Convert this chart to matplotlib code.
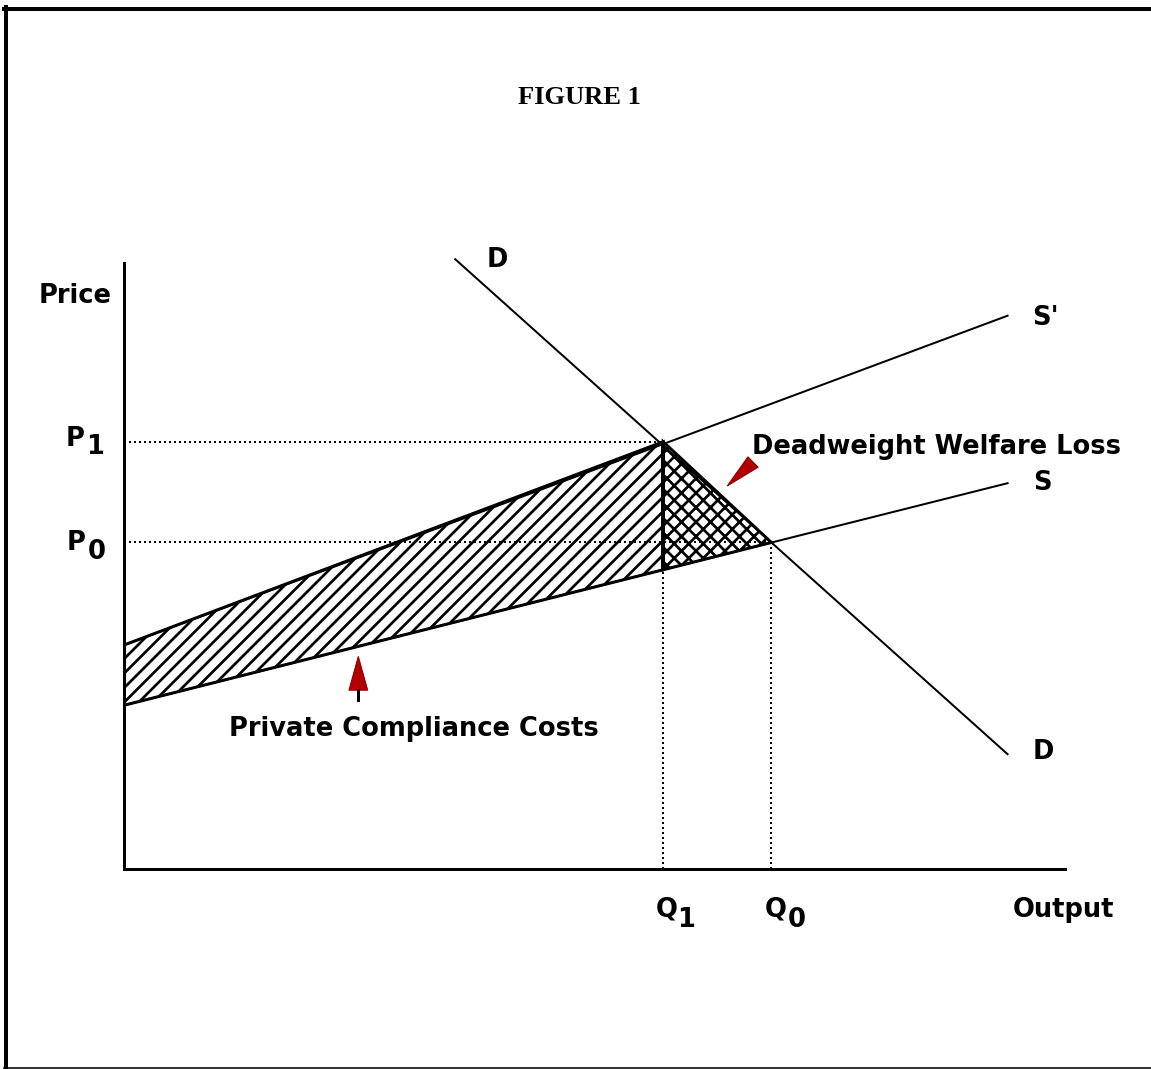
import numpy as np
import matplotlib
matplotlib.use('Agg')
import matplotlib.pyplot as plt
from matplotlib.patches import Polygon
from matplotlib.lines import Line2D

W, H, DPI = 1151, 1069, 87
PX = 72.0 / DPI  # one pixel in points

plt.rcParams['hatch.linewidth'] = 2.7 * PX
plt.rcParams['font.family'] = 'DejaVu Sans'

# curve end points (output, price)
demand_x = [3.52, 9.39]
demand_y = [6.48, 1.22]
supply_x = [0.0, 9.39]
supply_y = [1.74, 4.10]
supply2_x = [0.0, 9.39]
supply2_y = [2.38, 5.88]

# equilibria
q1, p1 = 5.73, 4.54
q0, p0 = 6.88, 3.47
s_at_q1 = 3.18

fig = plt.figure(figsize=(W / DPI, H / DPI), dpi=DPI)
ax = fig.add_axes([124 / W, (H - 869) / H, 941 / W, 606 / H])
ax.set_xlim(0, 10)
ax.set_ylim(0, 6.44)
for side in ['top', 'right']:
    ax.spines[side].set_visible(False)
for side in ['left', 'bottom']:
    ax.spines[side].set_linewidth(3 * PX)
ax.set_xticks([])
ax.set_yticks([])

lw = 2 * PX
ax.plot(demand_x, demand_y, 'k-', lw=lw, clip_on=False)
ax.plot(supply_x, supply_y, 'k-', lw=lw, clip_on=False)
ax.plot(supply2_x, supply2_y, 'k-', lw=lw, clip_on=False)

# compliance costs region
cost = Polygon([(supply_x[0], supply_y[0]), (supply2_x[0], supply2_y[0]), (q1, p1), (q1, s_at_q1)],
               closed=True, facecolor='none', edgecolor='k', hatch='//', lw=3 * PX)
ax.add_patch(cost)
# deadweight loss triangle
dwl = Polygon([(q1, p1), (q0, p0), (q1, s_at_q1)], closed=True,
              facecolor='none', edgecolor='k', hatch='xx', lw=3 * PX)
ax.add_patch(dwl)
ax.plot([q1, q1], [s_at_q1, p1], 'k-', lw=4 * PX, solid_capstyle='butt')

dot = (0, (1, 1.5))
ax.plot([0, q1], [p1, p1], color='k', lw=lw, ls=dot)
ax.plot([0, q0], [p0, p0], color='k', lw=lw, ls=dot)
ax.plot([q1, q1], [0, s_at_q1], color='k', lw=lw, ls=dot)
ax.plot([q0, q0], [0, p0], color='k', lw=lw, ls=dot)

# pointer arrows (red)
red = '#b00000'
a1 = Polygon([(2.49, 2.26), (2.39, 1.90), (2.59, 1.90)], closed=True,
             facecolor=red, edgecolor='#8a0000', lw=PX)
ax.add_patch(a1)
ax.plot([2.49, 2.49], [1.90, 1.80], 'k-', lw=3 * PX)
a2 = Polygon([(6.63, 4.38), (6.74, 4.27), (6.41, 4.07)], closed=True,
             facecolor=red, edgecolor='#8a0000', lw=PX)
ax.add_patch(a2)

# labels (pixel positions)
def label(px, py, s, **kw):
    fig.text(px / W, 1 - py / H, s, ha='center', va='center', **kw)

fs = 25.7 * PX
label(579, 97, 'FIGURE 1', family='Liberation Serif', weight='bold', fontsize=26.5 * PX)
label(75, 296, 'Price', fontsize=fs, weight='bold')
label(75, 439, 'P', fontsize=fs, weight='bold')
label(95, 447, '1', fontsize=fs, weight='bold')
label(76, 543, 'P', fontsize=fs, weight='bold')
label(97, 552, '0', fontsize=fs, weight='bold')
label(667, 910, 'Q', fontsize=fs, weight='bold')
label(686, 920, '1', fontsize=fs, weight='bold')
label(776, 910, 'Q', fontsize=fs, weight='bold')
label(797, 920, '0', fontsize=fs, weight='bold')
label(1063, 910, 'Output', fontsize=fs, weight='bold')
label(497, 260, 'D', fontsize=fs, weight='bold')
label(1043, 752, 'D', fontsize=fs, weight='bold')
label(1045, 318, "S'", fontsize=fs, weight='bold')
label(1042, 483, 'S', fontsize=fs, weight='bold')
label(936, 447, 'Deadweight Welfare Loss', fontsize=fs, weight='bold')
label(414, 729, 'Private Compliance Costs', fontsize=fs, weight='bold')

# page frame
fig.add_artist(Line2D([6 / W, 6 / W], [0, 1 - 7 / H], color='k', lw=4 * PX, transform=fig.transFigure))
fig.add_artist(Line2D([4 / W, 1], [1 - 9 / H, 1 - 9 / H], color='k', lw=4 * PX, transform=fig.transFigure))
fig.add_artist(Line2D([4 / W, 1], [1 - 1067.5 / H, 1 - 1067.5 / H], color='k', lw=1.6 * PX, transform=fig.transFigure))

fig.savefig('out.png', dpi=DPI)
